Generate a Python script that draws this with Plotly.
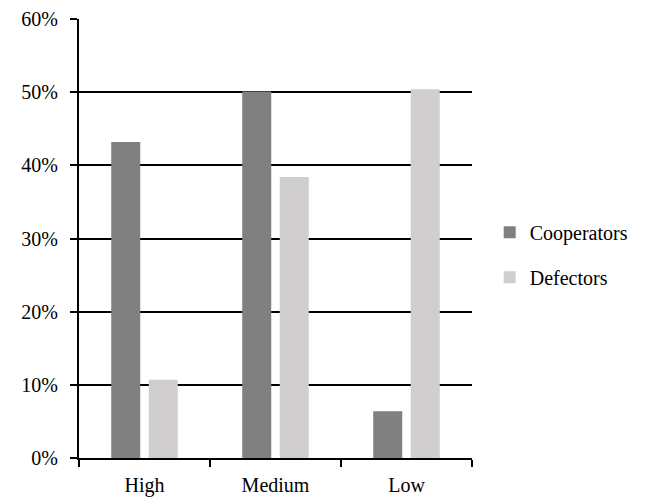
import plotly.graph_objects as go

categories = ["High", "Medium", "Low"]
cooperators = [0.432, 0.501, 0.064]
defectors = [0.107, 0.384, 0.504]
series_names = ["Cooperators", "Defectors"]
colors = ["#808080", "#d0cece"]

font_family = "Liberation Serif, Times New Roman, serif"

fig = go.Figure()
for i, (name, vals) in enumerate(zip(series_names, [cooperators, defectors])):
    fig.add_trace(go.Bar(
        x=categories, y=vals, name=name,
        marker=dict(color=colors[i], line=dict(width=0)),
        legendgroup=name,
    ))

fig.update_layout(
    width=630, height=494,
    margin=dict(l=71, r=166, t=11, b=44, autoexpand=False),
    paper_bgcolor="white", plot_bgcolor="white",
    barmode="group", bargap=0.427, bargroupgap=0.227,
    font=dict(family=font_family, size=20, color="black"),
    legend=dict(x=1.045, xanchor="left", y=0.463, yanchor="middle",
                font=dict(size=20), tracegroupgap=16,
                itemwidth=30),
    showlegend=True,
)
fig.update_xaxes(
    showline=True, linecolor="black", linewidth=2,
    ticks="outside", tickson="boundaries", ticklen=7, tickwidth=2, tickcolor="black",
    showgrid=False, automargin=False, ticklabelstandoff=8,
)
fig.update_yaxes(
    range=[0, 0.6], dtick=0.1, tickformat=".0%",
    showline=True, linecolor="black", linewidth=2,
    ticks="outside", ticklen=7, tickwidth=2, tickcolor="black",
    showgrid=True, gridcolor="black", gridwidth=2,
    zeroline=False, ticklabelstandoff=8, automargin=False,
)

fig.write_html("out.html")
